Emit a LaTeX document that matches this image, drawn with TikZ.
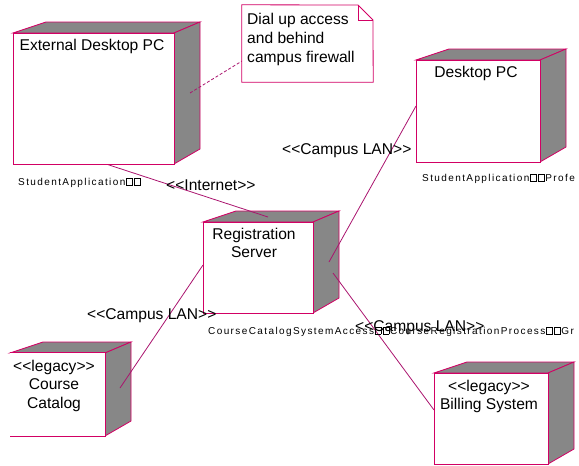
\documentclass[tikz,border=0pt]{standalone}
\usepackage{fontspec}
\setmainfont{Liberation Sans}
\newfontfamily\lblfont[LetterSpace=14]{Liberation Sans}
\definecolor{edgec}{RGB}{210,0,100}
\definecolor{wirec}{RGB}{170,20,110}
\definecolor{shadec}{RGB}{135,135,135}
\newcommand\gbox{\kern0.8pt{\fboxsep=0pt\fboxrule=0.7pt\fbox{\rule{0pt}{6.3pt}\kern5pt}}\kern0.8pt}
\newcommand\backfaces[4]{%
  \draw[side] (#1,#2) -- (#1+33,#2-11) -- (#3+26,#2-11) -- (#3,#2) -- cycle;
  \draw[side] (#3,#2) -- (#3+26,#2-11) -- (#3+26,#4-15) -- (#3,#4) -- cycle;}
\tikzset{
  big/.style={font=\fontsize{15.6}{18}\selectfont, inner sep=0pt, anchor=base},
  bigw/.style={big, anchor=base west},
  lbl/.style={font=\fontsize{10}{12}\lblfont, inner sep=0pt, anchor=base west},
  wire/.style={draw=wirec, line width=0.8pt},
  face/.style={draw=edgec, fill=white, line width=0.8pt, inner sep=0pt},
  side/.style={draw=edgec, fill=shadec, line width=0.8pt, line join=miter},
}
\begin{document}
\begin{tikzpicture}[x=1pt,y=-1pt]
\useasboundingbox (0,0) rectangle (579,466);
\clip (0,0) rectangle (579,466);
% shaded back faces
\backfaces{13}{33}{174}{164}
\backfaces{416}{60}{540}{162}
\backfaces{203}{222}{313}{313}
\backfaces{10}{353}{105}{436}
\backfaces{434}{373}{548}{464}
% connector end points
\coordinate (extA) at (106,164);
\coordinate (regA) at (268,217);
\coordinate (deskA) at (416,106);
\coordinate (regB) at (329,262);
\coordinate (catA) at (120,388);
\coordinate (regC) at (203,265);
\coordinate (regD) at (333,273);
\coordinate (billA) at (434,410);
\coordinate (extN) at (190,93);
\coordinate (noteA) at (242,61);
% connectors
\draw[wire] (extA) -- (regA);
\draw[wire] (deskA) -- (regB);
\draw[wire] (catA) -- (regC);
\draw[wire] (regD) -- (billA);
\draw[wire, dash pattern=on 3pt off 2pt] (extN) -- (noteA);
% front faces
\node[face, minimum width=161pt, minimum height=131pt] (ext) at (93.5,98.5) {};
\node[face, minimum width=124pt, minimum height=102pt] (desk) at (478,111) {};
\node[face, minimum width=110pt, minimum height=91pt] (reg) at (258,267.5) {};
\node[face, draw=none, minimum width=95pt, minimum height=83pt] (cat) at (57.5,394.5) {};
\draw[edgec, line width=0.8pt] (cat.north west) -- (cat.north east) -- (cat.south east) -- (cat.south west);
\node[face, minimum width=114pt, minimum height=91pt] (bill) at (491,418.5) {};
% note
\node[inner sep=0pt, minimum width=131pt, minimum height=77pt] (note) at (307.5,43.5) {};
\draw[edgec, fill=white, line width=0.8pt] (note.north west) -- (358,5) -- (373,20) -- (note.south east) -- (note.south west) -- cycle;
\draw[edgec, line width=0.8pt] (358,5) -- (358,20) -- (373,20);
\node[bigw] (n1) at (247,24) {Dial up access};
\node[bigw] (n2) at (247,43) {and behind};
\node[bigw] (n3) at (247,62) {campus firewall};
% titles
\node[big] (extt) at (92,50) {External Desktop PC};
\node[big] (deskt) at (476,77) {Desktop PC};
\node[big] (regt1) at (254,239) {Registration};
\node[big] (regt2) at (254,257) {Server};
\node[big] (catt1) at (54,371) {<{}<legacy>{}>};
\node[big] (catt2) at (54,389) {Course};
\node[big] (catt3) at (54,408) {Catalog};
\node[big] (billt1) at (489,391) {<{}<legacy>{}>};
\node[big] (billt2) at (489,409) {Billing System};
% small labels
\node[lbl] (extl) at (18,185) {StudentApplication\gbox\gbox};
\node[lbl] (deskl) at (422,181) {StudentApplication\gbox\gbox Profe};
\node[lbl] (regl) at (208,334) {CourseCatalogSystemAccess\gbox\gbox CourseRegistrationProcess\gbox\gbox Gr};
% connector labels
\node[bigw] (w1) at (166,190) {<{}<Internet>{}>};
\node[bigw] (w2) at (282,154) {<{}<Campus LAN>{}>};
\node[bigw] (w3) at (87,319) {<{}<Campus LAN>{}>};
\node[bigw] (w4) at (355,331) {<{}<Campus LAN>{}>};
\end{tikzpicture}
\end{document}
